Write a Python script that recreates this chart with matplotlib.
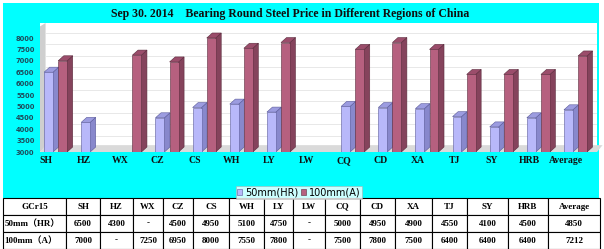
import matplotlib
matplotlib.use("Agg")
import matplotlib.pyplot as plt
from matplotlib.patches import Polygon, Rectangle
import numpy as np

# ---------------- data ----------------
regions = ["SH", "HZ", "WX", "CZ", "CS", "WH", "LY", "LW", "CQ", "CD", "XA", "TJ", "SY", "HRB", "Average"]
price_50mm = [6500, 4300, None, 4500, 4950, 5100, 4750, None, 5000, 4950, 4900, 4550, 4100, 4500, 4850]
price_100mm = [7000, None, 7250, 6950, 8000, 7550, 7800, None, 7500, 7800, 7500, 6400, 6400, 6400, 7212]
series_names = ["50mm(HR)", "100mm(A)"]
row_names = ["50mm（HR）", "100mm（A）"]
table_corner = "GCr15"
title = "Sep 30. 2014    Bearing Round Steel Price in Different Regions of China"
yticks = list(range(3000, 8001, 500))

# ---------------- layout ----------------
W, H = 604, 249
fig = plt.figure(figsize=(W / 100, H / 100), dpi=100)
fig.patch.set_facecolor("white")

def fx(px):
    return px / W

def fy(py):
    return 1 - py / H

# cyan chart background
fig.patches.append(Rectangle((fx(3), fy(198)), fx(599) - fx(3), fy(3) - fy(198),
                             transform=fig.transFigure, facecolor="#00ffff", edgecolor="none", zorder=-5))

serif = ["Liberation Serif", "DejaVu Serif"]

fig.text(fx(290), fy(14), title, ha="center", va="center", fontsize=8.5, fontweight="bold",
         family=serif, color="#101010")

ax = fig.add_axes([fx(40), fy(152), fx(597) - fx(40), fy(23) - fy(152)])
ax.set_zorder(1)
ax.set_facecolor("white")
for s in ax.spines.values():
    s.set_visible(False)

ymin, ymax = 3000, 8658
ax.set_xlim(-0.5, len(regions) - 0.5)
ax.set_ylim(ymin, ymax)

dx = 0.15      # 3D depth in category units
dy = 220       # 3D depth in value units
bw = 0.24

# gridlines on back wall
for t in yticks + [8500]:
    ax.plot([-0.5 + dx, len(regions) - 0.5], [t + dy, t + dy], color="#e4e4e4", lw=0.6, zorder=0.5)

# left wall and floor
ax.add_patch(Polygon([(-0.5, ymin), (-0.5 + dx, ymin + dy), (-0.5 + dx, ymax), (-0.5, ymax - 150)],
                     closed=True, facecolor="#cfcfcf", edgecolor="none", zorder=1, clip_on=False))
ax.add_patch(Polygon([(-0.5, ymin), (len(regions) - 0.5, ymin), (len(regions) - 0.5 + dx, ymin + 300),
                      (-0.5 + dx, ymin + 300)],
                     closed=True, facecolor="#dadada", edgecolor="none", zorder=1, clip_on=False))

styles = [
    dict(front="#b8b8fa", side="#8888cc", top="#9c9ce0", edge="#5a5a9a", off=-0.27),
    dict(front="#b6607f", side="#85435c", top="#9b4d6b", edge="#5a2a3c", off=0.11),
]

x = np.arange(len(regions))
for vals, st, name in zip([price_50mm, price_100mm], styles, series_names):
    xs = [xi + st["off"] for xi, v in zip(x, vals) if v is not None]
    hs = [v - ymin for v in vals if v is not None]
    bars = ax.bar(xs, hs, width=bw, bottom=ymin, color=st["front"], edgecolor=st["edge"],
                  linewidth=0.4, zorder=3, label=name)
    for b in bars:
        x0 = b.get_x()
        x1 = x0 + b.get_width()
        top = b.get_y() + b.get_height()
        ax.add_patch(Polygon([(x1, ymin), (x1 + dx, ymin + dy), (x1 + dx, top + dy), (x1, top)],
                             closed=True, facecolor=st["side"], edgecolor=st["edge"], lw=0.4, zorder=2.9))
        ax.add_patch(Polygon([(x0, top), (x1, top), (x1 + dx, top + dy), (x0 + dx, top + dy)],
                             closed=True, facecolor=st["top"], edgecolor=st["edge"], lw=0.4, zorder=2.9))

ax.set_yticks(yticks)
ax.set_yticklabels([str(t) for t in yticks], fontsize=4.8, fontweight="bold", color="#1d4a5a")
ax.tick_params(axis="y", length=0, pad=4)
ax.set_xticks(x - 0.33)
ax.set_xticklabels(regions, fontsize=7, fontweight="bold", family=serif, color="#101010")
ax.tick_params(axis="x", length=0, pad=3)

leg = fig.legend(loc="center", bbox_to_anchor=(fx(299), fy(192.5)), ncol=2, fontsize=7,
                 frameon=True, fancybox=False, handlelength=0.5, handleheight=0.5,
                 handletextpad=0.3, columnspacing=0.3, borderpad=0.15)
leg.get_frame().set_edgecolor("#b0b0b0")
leg.get_frame().set_linewidth(0.5)

# ---------------- table ----------------
col_edges = [3, 66, 100, 133, 163, 193, 229, 264, 293, 325, 360, 395, 432, 467, 508, 548, 600]
tax = fig.add_axes([fx(3), 0, fx(600) - fx(3), fy(198)])
tax.axis("off")
widths = np.diff(col_edges) / (col_edges[-1] - col_edges[0])

def fmt(v):
    return "-" if v is None else str(v)

cells = [[table_corner] + regions,
         [row_names[0]] + [fmt(v) for v in price_50mm],
         [row_names[1]] + [fmt(v) for v in price_100mm]]
tbl = tax.table(cellText=cells, colWidths=list(widths), loc="center", bbox=[0, 0, 1, 1],
                cellLoc="center")
tbl.auto_set_font_size(False)
for (r, c), cell in tbl.get_celld().items():
    cell.set_facecolor("white")
    cell.set_edgecolor("black")
    cell.set_linewidth(0.8)
    txt = cell.get_text()
    txt.set_fontsize(6.5)
    txt.set_fontweight("bold")
    txt.set_family(["Liberation Serif", "Noto Sans CJK SC"])
    if c == 0 and r > 0:
        txt.set_ha("left")
        cell.PAD = 0.02

fig.savefig("out.png", dpi=100, facecolor="white")
